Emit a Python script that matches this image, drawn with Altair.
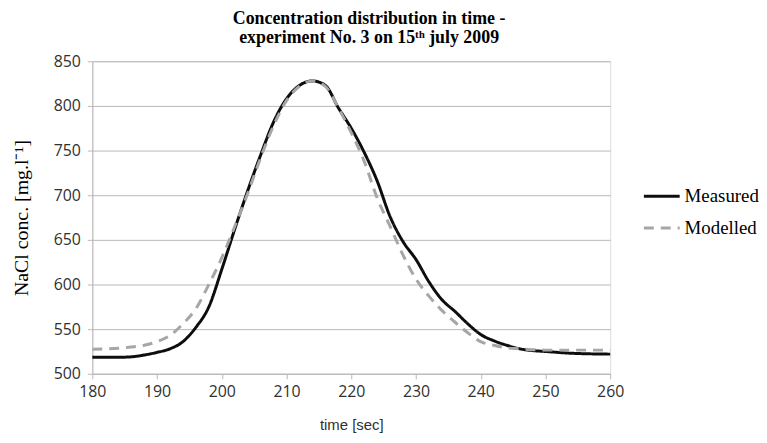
import altair as alt
import pandas as pd

# ---- data ----
series_names = ["Measured", "Modelled"]

time_measured = [180, 184, 186, 188, 190, 192, 194, 196, 198, 200, 202, 204, 206, 208, 210,
                 212, 214, 216, 218, 220, 222, 224, 226, 228, 230, 232, 234, 236, 238, 240,
                 242, 244, 246, 248, 250, 254, 260]
measured = [518.5, 518.5, 519, 521, 524, 528, 536, 552, 575, 617, 662, 705, 745, 782, 808,
            823, 828, 823, 798, 775, 748, 716, 676, 648, 628, 603, 583, 570, 556, 544,
            537, 532, 528, 526, 525, 523, 522]

time_modelled = [180, 184, 186, 188, 190, 192, 194, 196, 198, 200, 202, 204, 206, 208, 210,
                 212, 214, 216, 218, 220, 222, 224, 226, 228, 230, 232, 234, 236, 238, 240,
                 242, 244, 246, 248, 250, 254, 260]
modelled = [527.5, 528.5, 530, 532, 536, 543, 556, 573, 600, 630, 665, 702, 742, 778, 806,
            822, 828, 822, 798, 770, 738, 697, 665, 633, 606, 587, 571, 558, 546, 536,
            532, 529, 528, 527, 526.5, 526.5, 526.5]

x_ticks = [180, 190, 200, 210, 220, 230, 240, 250, 260]
y_ticks = [500, 550, 600, 650, 700, 750, 800, 850]

title_lines = ["Concentration distribution in time -", "experiment No. 3 on 15\u1d57\u02b0 july 2009"]
x_title = "time [sec]"
y_title = "NaCl conc. [mg.l\u207b\u00b9]"

series_colors = ["#0d0d0d", "#a6a6a6"]
series_dashes = [[1, 0], [10, 7]]

df = pd.concat([
    pd.DataFrame({"time": time_measured, "conc": measured, "series": series_names[0]}),
    pd.DataFrame({"time": time_modelled, "conc": modelled, "series": series_names[1]}),
], ignore_index=True)

grid_gray = "#b8b8b8"

legend = alt.Legend(
    title=None,
    orient="none",
    legendX=554,
    legendY=116,
    symbolType="stroke",
    symbolSize=1300,
    symbolStrokeWidth=3,
    labelFont="Liberation Serif",
    labelFontSize=19,
    labelColor="#000000",
    labelOffset=3,
    rowPadding=2,
    padding=0,
)

chart = alt.Chart(df).mark_line(strokeWidth=3, interpolate="monotone").encode(
    x=alt.X(
        "time:Q",
        scale=alt.Scale(domain=[180, 260], nice=False),
        axis=alt.Axis(
            values=x_ticks, title=x_title, grid=False, labelFlush=False,
            domainColor=grid_gray, tickColor=grid_gray, tickSize=5,
            labelFont="Open Sans", labelFontSize=16, labelColor="#303030", labelPadding=5,
            titleFont="Liberation Sans", titleFontSize=15, titleFontWeight="normal",
            titleColor="#303030", titlePadding=18,
        ),
    ),
    y=alt.Y(
        "conc:Q",
        scale=alt.Scale(domain=[500, 850], nice=False, zero=False),
        axis=alt.Axis(
            values=y_ticks, title=y_title, grid=True, gridColor=grid_gray, gridWidth=1,
            domainColor=grid_gray, tickColor=grid_gray, tickSize=5,
            labelFont="Open Sans", labelFontSize=16, labelColor="#303030", labelPadding=7,
            titleFont="Liberation Serif", titleFontSize=20, titleFontWeight="normal",
            titleColor="#000000", titlePadding=22,
        ),
    ),
    color=alt.Color("series:N", scale=alt.Scale(domain=series_names, range=series_colors), legend=legend),
    strokeDash=alt.StrokeDash("series:N", scale=alt.Scale(domain=series_names, range=series_dashes), legend=legend),
).properties(
    width=522,
    height=315,
    title=alt.TitleParams(
        text=title_lines,
        font="Liberation Serif",
        fontSize=18,
        fontWeight="bold",
        color="#000000",
        anchor="middle",
        dx=18,
        offset=6,
        lineHeight=20,
    ),
    padding={"left": 85, "top": 52, "right": 150, "bottom": 60},
    autosize=alt.AutoSizeParams(type="none"),
).configure_view(strokeWidth=0).configure(background="#ffffff")

chart.save("out.html", embed_options={"renderer": "svg", "actions": False})
